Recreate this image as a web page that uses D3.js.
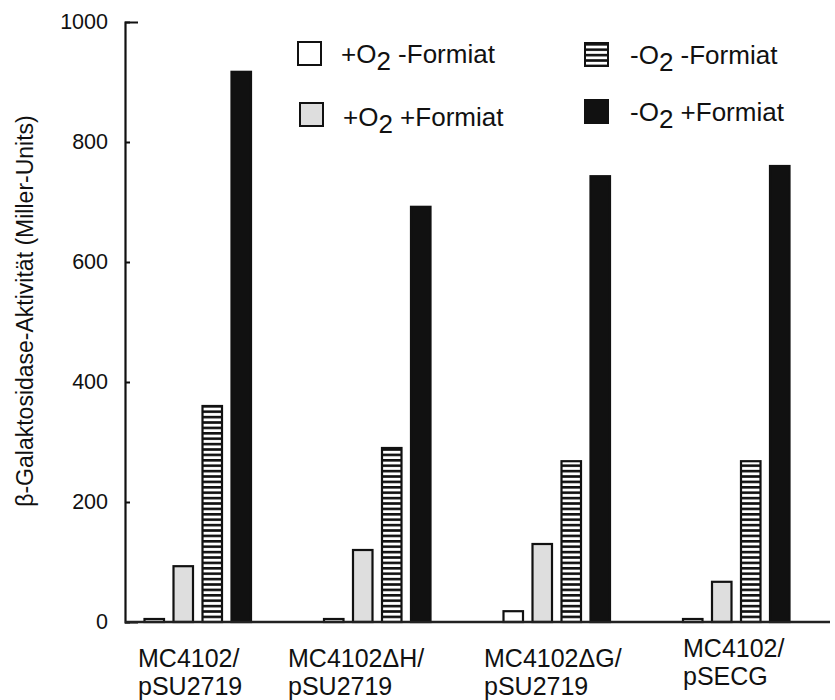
<!DOCTYPE html>
<html>
<head>
<meta charset="utf-8">
<script src="https://cdn.jsdelivr.net/npm/d3@7"></script>
<style>
    body { margin: 0; background: #fff; }
    text { font-family: "Liberation Sans", Arial, Helvetica, sans-serif; fill: #111; }
</style>
</head>
<body>
<div id="chart"></div>
<script>

// data
const strains = ["MC4102/pSU2719", "MC4102ΔH/pSU2719", "MC4102ΔG/pSU2719", "MC4102/pSECG"];
const strainLines = [["MC4102/", "pSU2719"], ["MC4102ΔH/", "pSU2719"], ["MC4102ΔG/", "pSU2719"], ["MC4102/", "pSECG"]];
const conditions = ["+O2 -Formiat", "+O2 +Formiat", "-O2 -Formiat", "-O2 +Formiat"];
const plusO2MinusFormiat = [5, 5, 18, 5];
const plusO2PlusFormiat = [93, 120, 130, 67];
const minusO2MinusFormiat = [360, 290, 268, 268];
const minusO2PlusFormiat = [917, 692, 743, 760];
const yTicks = [0, 200, 400, 600, 800, 1000];
const yLabel = "β-Galaktosidase-Aktivität (Miller-Units)";

class ActivityChart {

    constructor(parentElement) {
        this.parentElement = parentElement;
        this.initVis();
    }

    initVis() {
        let vis = this;
        vis.width = 835;
        vis.height = 700;
        vis.plot = {left: 125, right: 830, top: 22, bottom: 622};

        // fill per condition
        vis.fills = ["#ffffff", "#dedede", "url(#hatch)", "#111111"];

        vis.svg = d3.select("#" + vis.parentElement).append("svg")
            .attr("width", vis.width)
            .attr("height", vis.height);

        // horizontal stripes for the -O2 -Formiat bars
        let pat = vis.svg.append("defs").append("pattern")
            .attr("id", "hatch")
            .attr("patternUnits", "userSpaceOnUse")
            .attr("width", 8)
            .attr("height", 5.4);
        pat.append("rect").attr("width", 8).attr("height", 5.4).attr("fill", "#fff");
        pat.append("rect").attr("width", 8).attr("height", 2.6).attr("fill", "#111");

        // Scales
        vis.y = d3.scaleLinear()
            .domain([0, 1000])
            .range([vis.plot.bottom, vis.plot.top]);

        vis.x0 = d3.scaleBand()
            .domain(strains)
            .range([144.5, 862.5]);

        vis.x1 = d3.scaleBand()
            .domain(conditions)
            .range([0, 106.5])
            .paddingInner(0.3276)
            .paddingOuter(0);

        // label nudges (the original labels are not centred on the groups)
        vis.labelShift = [-6.5, -36, -19.5, 0];
        vis.labelLift = [0, 0, 0, -10];

        vis.wrangleData();
    }

    wrangleData() {
        let vis = this;
        let series = [plusO2MinusFormiat, plusO2PlusFormiat, minusO2MinusFormiat, minusO2PlusFormiat];
        vis.displayData = [];
        strains.forEach((s, i) => {
            conditions.forEach((c, j) => {
                vis.displayData.push({strain: s, cond: c, ci: j, value: series[j][i]});
            });
        });
        vis.updateVis();
    }

    updateVis() {
        let vis = this;

        // bars
        vis.svg.selectAll(".bar")
            .data(vis.displayData)
            .enter().append("rect")
            .attr("class", "bar")
            .attr("x", d => vis.x0(d.strain) + vis.x1(d.cond))
            .attr("y", d => vis.y(d.value))
            .attr("width", vis.x1.bandwidth())
            .attr("height", d => vis.y(0) - vis.y(d.value))
            .attr("fill", d => vis.fills[d.ci])
            .attr("stroke", "#111")
            .attr("stroke-width", 2.2);

        // y axis, ticks pointing inwards
        let yAxis = d3.axisLeft(vis.y)
            .tickValues(yTicks)
            .tickSizeInner(-5)
            .tickSizeOuter(-13)
            .tickPadding(17)
            .tickFormat(d3.format("d"));

        let gy = vis.svg.append("g")
            .attr("transform", "translate(" + vis.plot.left + ",0)")
            .call(yAxis);
        gy.select(".domain").attr("stroke", "#111").attr("stroke-width", 2.2);
        gy.selectAll(".tick line").attr("stroke", "#111").attr("stroke-width", 2);
        gy.selectAll(".tick text")
            .attr("font-size", 21.5)
            .attr("font-family", "Liberation Sans, Arial, sans-serif")
            .attr("fill", "#111");

        // x baseline
        vis.svg.append("line")
            .attr("x1", vis.plot.left)
            .attr("x2", vis.plot.right)
            .attr("y1", vis.y(0))
            .attr("y2", vis.y(0))
            .attr("stroke", "#222")
            .attr("stroke-width", 2.5);

        // y axis title
        vis.svg.append("text")
            .attr("transform", "translate(33," + 311 + ") rotate(-90)")
            .attr("text-anchor", "middle")
            .attr("font-size", 23)
            .text(yLabel);

        // strain labels
        let lab = vis.svg.selectAll(".strain-label")
            .data(strainLines)
            .enter().append("text")
            .attr("class", "strain-label")
            .attr("font-size", 25)
            .attr("transform", (d, i) => "translate(" + (vis.x0(strains[i]) + vis.labelShift[i]) + "," + (667 + vis.labelLift[i]) + ")");
        lab.append("tspan").attr("x", 0).attr("y", 0).text(d => d[0]);
        lab.append("tspan").attr("x", 0).attr("y", 28).text(d => d[1]);

        // legend, two columns
        let legendX = [298, 300, 585, 585];
        let legendY = [42, 103, 43, 100];
        let leg = vis.svg.selectAll(".legend")
            .data(conditions)
            .enter().append("g")
            .attr("class", "legend")
            .attr("transform", (d, i) => "translate(" + legendX[i] + "," + legendY[i] + ")");

        leg.append("rect")
            .attr("width", 23)
            .attr("height", 23)
            .attr("fill", (d, i) => vis.fills[i])
            .attr("stroke", "#111")
            .attr("stroke-width", 2);

        let lt = leg.append("text")
            .attr("x", (d, i) => i < 2 ? 43 : 45)
            .attr("y", (d, i) => i == 1 ? 23 : 21)
            .attr("font-size", 26);
        lt.append("tspan").text(d => d.split("2")[0]);
        lt.append("tspan").attr("dy", 7).text("2");
        lt.append("tspan").attr("dy", -7).text(d => d.split("2")[1]);
    }
}

new ActivityChart("chart");
</script>
</body>
</html>
